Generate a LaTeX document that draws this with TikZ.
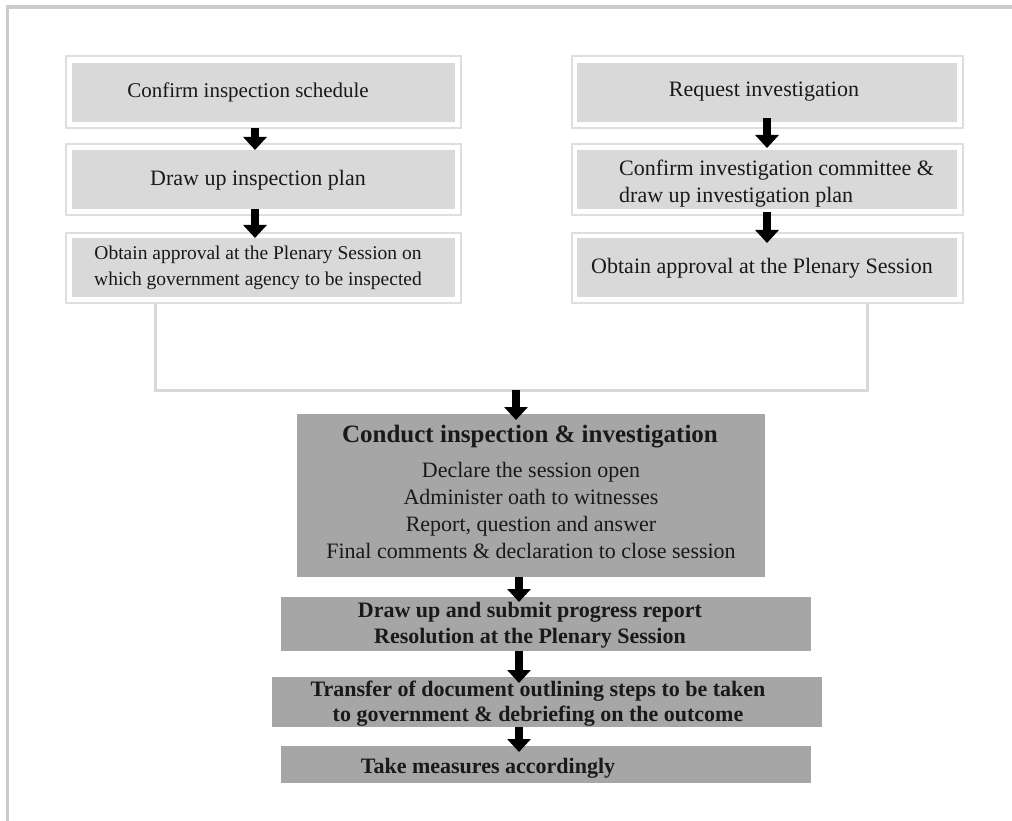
\documentclass[tikz,border=0pt]{standalone}
\usepackage{fontspec}
\setmainfont{Liberation Serif}
\usetikzlibrary{arrows.meta}
\definecolor{pageline}{RGB}{204,204,204}
\definecolor{framegray}{RGB}{222,222,222}
\definecolor{lightfill}{RGB}{217,217,217}
\definecolor{darkfill}{RGB}{166,166,166}
\definecolor{txtcol}{RGB}{25,25,25}
\begin{document}
\begin{tikzpicture}[x=1pt,y=-1pt,
  frame/.style={draw=framegray, line width=2pt, fill=white, inner sep=0pt, outer sep=0pt, anchor=north west},
  lbox/.style={fill=lightfill, draw=none, inner sep=0pt, outer sep=0pt, anchor=north west},
  dbox/.style={fill=darkfill, draw=none, inner sep=0pt, outer sep=0pt, anchor=north west},
  arr/.style={line width=8.5pt, black, -{Triangle[width=23pt,length=13pt]}},
  bracket/.style={draw=lightfill, line width=3pt},
  txt/.style={text=txtcol, inner sep=0pt, font=\fontsize{22}{27}\selectfont, align=center},
  btxt/.style={text=txtcol, inner sep=0pt, font=\fontsize{22}{26}\selectfont\bfseries, align=center}
]
\useasboundingbox (0,0) rectangle (1012,821);
% page border
\draw[pageline, line width=3.5pt] (7.5,821) -- (7.5,7) -- (1012,7);

% left column
\node[frame, minimum width=395pt, minimum height=72pt] (FL1) at (66,56) {};
\node[lbox, minimum width=383pt, minimum height=59pt] (L1) at (72,63) {};
\node[frame, minimum width=395pt, minimum height=71pt] (FL2) at (66,144) {};
\node[lbox, minimum width=383pt, minimum height=59pt] (L2) at (72,150) {};
\node[frame, minimum width=395pt, minimum height=70pt] (FL3) at (66,233) {};
\node[lbox, minimum width=383pt, minimum height=59pt] (L3) at (72,238) {};

% right column
\node[frame, minimum width=391pt, minimum height=72pt] (FR1) at (572,56) {};
\node[lbox, minimum width=380pt, minimum height=59pt] (R1) at (577,63) {};
\node[frame, minimum width=391pt, minimum height=71pt] (FR2) at (572,144) {};
\node[lbox, minimum width=380pt, minimum height=59pt] (R2) at (577,150) {};
\node[frame, minimum width=391pt, minimum height=70pt] (FR3) at (572,233) {};
\node[lbox, minimum width=380pt, minimum height=59pt] (R3) at (577,238) {};

% texts top
\node[txt, font=\fontsize{21}{27}\selectfont] (tL1) at (248,92) {Confirm inspection schedule};
\node[txt] (tL2) at (258,180) {Draw up inspection plan};
\node[txt, font=\fontsize{19.5}{26}\selectfont] (tL3) at (258,268) {Obtain approval at the Plenary Session on\\which government agency to be inspected};
\node[txt] (tR1) at (764,92) {Request investigation};
\node[txt, align=left, anchor=west] (tR2) at (619,184) {Confirm investigation committee \&\\draw up investigation plan};
\node[txt] (tR3) at (762,268) {Obtain approval at the Plenary Session};

% lower boxes
\node[dbox, minimum width=468pt, minimum height=163pt] (C) at (297,414) {};
\node[dbox, minimum width=530pt, minimum height=54pt] (B1) at (281,597) {};
\node[dbox, minimum width=550pt, minimum height=50pt] (B2) at (272,677) {};
\node[dbox, minimum width=530pt, minimum height=37pt] (B3) at (281,746) {};

\node[btxt, font=\fontsize{25}{27}\selectfont\bfseries] (tC0) at (530,437) {Conduct inspection \& investigation};
\node[txt] (tC1) at (531,510) {Declare the session open\\Administer oath to witnesses\\Report, question and answer\\Final comments \& declaration to close session};
\node[btxt] (tB1) at (530,625) {Draw up and submit progress report\\Resolution at the Plenary Session};
\node[btxt, font=\fontsize{22}{25}\selectfont\bfseries] (tB2) at (538,704) {Transfer of document outlining steps to be taken\\to government \& debriefing on the outcome};
\node[btxt] (tB3) at (488,768) {Take measures accordingly};

% bracket
\coordinate (bl) at (155,390);
\coordinate (br) at (867,390);
\coordinate (join) at (516,390);
\draw[bracket] (FL3.south -| bl) -- (bl) -- (br) -- (FR3.south -| br);

% arrows
\coordinate (lx) at (255,0);
\coordinate (rx) at (767,0);
\coordinate (cx) at (519,0);
\draw[arr] (FL1.south -| lx) -- (L2.north -| lx);
\draw[arr] (L2.south -| lx) -- (L3.north -| lx);
\draw[arr] ([yshift=4pt]R1.south -| rx) -- ([yshift=2pt]R2.north -| rx);
\draw[arr] ([yshift=-3pt]R2.south -| rx) -- ([yshift=-5pt]R3.north -| rx);
\draw[arr] (join) -- ([yshift=-6pt]C.north -| join);
\draw[arr] (C.south -| cx) -- ([yshift=-5pt]B1.north -| cx);
\draw[arr] (B1.south -| cx) -- ([yshift=-6pt]B2.north -| cx);
\draw[arr] (B2.south -| cx) -- ([yshift=-6pt]B3.north -| cx);
\end{tikzpicture}
\end{document}
